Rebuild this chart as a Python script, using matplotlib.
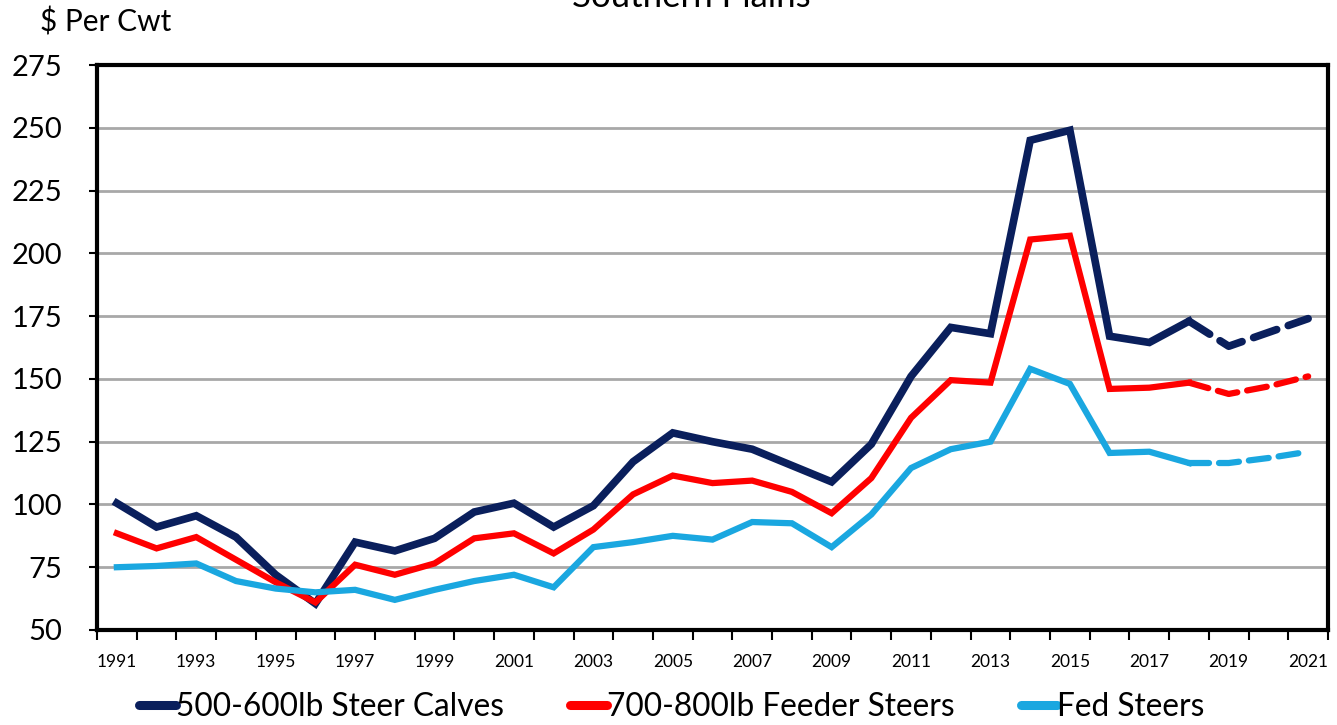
import matplotlib
matplotlib.use("Agg")
import matplotlib.pyplot as plt
from matplotlib.ticker import MultipleLocator, FixedLocator

years = list(range(1991, 2022))
steer_calves = [100.5, 91, 95.5, 87, 72, 60.5, 85, 81.5, 86.5, 97, 100.5, 91, 99.5, 117, 128.5, 125,
                122, 115.5, 109, 124, 151, 170.5, 168, 245, 249, 167, 164.5, 173, 163, 168.5, 174]
feeder_steers = [88.5, 82.5, 87, 78, 69, 61, 76, 72, 76.5, 86.5, 88.5, 80.5, 90, 104, 111.5, 108.5,
                 109.5, 105, 96.5, 110.5, 134.5, 149.5, 148.5, 205.5, 207, 146, 146.5, 148.5, 144, 147, 151]
fed_steers = [75, 75.5, 76.5, 69.5, 66.5, 65, 66, 62, 66, 69.5, 72, 67, 83, 85, 87.5, 86,
              93, 92.5, 83, 96, 114.5, 122, 125, 154, 148, 120.5, 121, 116.5, 116.5, 118.5, 121]
series_names = ["500-600lb Steer Calves", "700-800lb Feeder Steers", "Fed Steers"]
colors = ["#0a1f5c", "#ff0000", "#1aa7e0"]
widths = [5.5, 4.5, 4.5]
last_actual = 2018
tick_years = list(range(1991, 2022, 2))

fam = ["Lato", "DejaVu Sans"]

fig = plt.figure(figsize=(13.37, 7.25), dpi=100)
ax = fig.add_axes([97/1337, 1-630/725, (1328-97)/1337, (630-65)/725])

for vals, c, w, name in zip([steer_calves, feeder_steers, fed_steers], colors, widths, series_names):
    k = years.index(last_actual)
    ax.plot(years[:k+1], vals[:k+1], color=c, lw=w, solid_joinstyle="miter", label=name)
    ax.plot(years[k:], vals[k:], color=c, lw=w, ls=(0, (3.2, 1.6)), dash_capstyle="round")

ax.set_xlim(1990.5, 2021.5)
ax.set_ylim(50, 275)
ax.yaxis.set_major_locator(MultipleLocator(25))
ax.xaxis.set_major_locator(FixedLocator(tick_years))
ax.xaxis.set_minor_locator(FixedLocator([y - 0.5 for y in range(1991, 2023)]))
ax.tick_params(axis="x", which="major", length=0, pad=17)
ax.tick_params(axis="x", which="minor", length=7, width=1.5, direction="out")
ax.tick_params(axis="y", which="major", length=6, width=1.5, direction="out", pad=19)
ax.set_xticklabels([str(y) for y in tick_years], fontsize=12.5, family=fam)
for lbl in ax.get_yticklabels():
    lbl.set_fontsize(21)
    lbl.set_family(fam)
ax.grid(axis="y", color="#a8a8a8", lw=2)
ax.set_axisbelow(True)
for s in ax.spines.values():
    s.set_linewidth(3)
    s.set_color("black")

fig.text(40/1337, 1-22/725, "$ Per Cwt", fontsize=21.5, family=fam, va="center", ha="left")
fig.text(691/1337, 1-7/725, "Southern Plains", fontsize=25, family=fam, va="baseline", ha="center")

handles, labels = ax.get_legend_handles_labels()
leg = fig.legend(handles, labels, loc="center", bbox_to_anchor=(672/1337, 1-707/725), ncol=3,
                 frameon=False, handlelength=1.15, handletextpad=0.0, columnspacing=2.1,
                 prop={"family": fam, "size": 22.8})
for h in leg.get_lines():
    h.set_linewidth(6.5)
    h.set_solid_capstyle("round")

fig.savefig("out.png", dpi=100)
